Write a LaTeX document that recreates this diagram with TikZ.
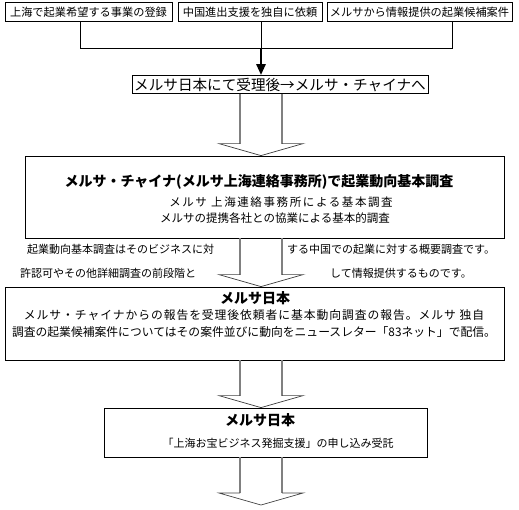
\documentclass[tikz,border=0pt]{standalone}
\usepackage{fontspec}
\setmainfont{Noto Sans CJK JP}
\usetikzlibrary{calc,arrows.meta}

\tikzset{
  box/.style={draw=black, line width=0.8pt, inner sep=0pt},
  topbox/.style={box, minimum height=19pt, font=\fontsize{11.2pt}{13pt}\selectfont},
  titletext/.style={inner sep=0pt, font=\fontsize{14pt}{16pt}\selectfont\bfseries},
  bodytext/.style={inner sep=0pt, font=\fontsize{11.5pt}{13pt}\selectfont},
  shaftline/.style={draw=black!50, line width=1.6pt},
  headline/.style={draw=black!75, line width=0.7pt, line join=miter}
}

% hollow arrow from #1 (upper end) down to the tip #2
\newcommand{\hollowarrow}[2]{%
  \draw[shaftline] ($(axis |- #1)+(-21,0)$) -- ($(axis |- #2)+(-21,-12)$);
  \draw[shaftline] ($(axis |- #1)+(21,0)$) -- ($(axis |- #2)+(21,-12)$);
  \draw[headline] ($(axis |- #2)+(-21,-12)$) -- ++(-21,0) -- (axis |- #2)
    -- ($(axis |- #2)+(42,-12)$) -- ++(-21,0);
}

\begin{document}
\begin{tikzpicture}[x=1pt,y=-1pt]
\useasboundingbox (0,0) rectangle (519,509);
\coordinate (axis) at (261,0);

% requests
\node[topbox, minimum width=167pt] (req1) at (88.5,12) {上海で起業希望する事業の登録};
\node[topbox, minimum width=144pt] (req2) at (250,12) {中国進出支援を独自に依頼};
\node[topbox, minimum width=185pt] (req3) at (419.5,12) {メルサから情報提供の起業候補案件};

\coordinate (jl) at (80,48);
\coordinate (jr) at (452,48);
\draw[line width=0.8pt] (jl |- req1.south) -- (jl) -- (jr) -- (jr |- req3.south);
\draw[line width=0.8pt] (axis |- req2.south) -- (axis |- jl);

\node[box, minimum width=296pt, minimum height=18pt, font=\fontsize{14.6pt}{16pt}\selectfont] (accept) at (280,84.5) {メルサ日本にて受理後→メルサ・チャイナへ};
\draw[line width=2.6pt, -{Triangle[width=9pt,length=11pt]}] (axis |- jl) -- (axis |- accept.north);

% china survey
\node[box, minimum width=479pt, minimum height=82pt] (survey) at (264.5,197) {};
\node[titletext] (surveyT) at (259,182) {メルサ・チャイナ(メルサ上海連絡事務所)で起業動向基本調査};
\node[bodytext] (surveyA) at (281,202) {\addfontfeature{LetterSpace=14}メルサ 上海連絡事務所による基本調査};
\node[bodytext] (surveyB) at (275,218) {メルサの提携各社との協業による基本的調査};
\hollowarrow{accept.south}{survey.north}

% note between
\node[bodytext, anchor=west, font=\fontsize{11pt}{13pt}\selectfont] (noteA) at (27,249) {起業動向基本調査はそのビジネスに対};
\node[bodytext, anchor=west, font=\fontsize{11pt}{13pt}\selectfont] (noteB) at (287,249) {する中国での起業に対する概要調査です。};
\node[bodytext, anchor=west, font=\fontsize{11pt}{13pt}\selectfont] (noteC) at (20,273) {許認可やその他詳細調査の前段階と};
\node[bodytext, anchor=west, font=\fontsize{11pt}{13pt}\selectfont] (noteD) at (330,273) {して情報提供するものです。};

% report
\node[box, minimum width=499pt, minimum height=73pt] (report) at (254.5,323.5) {};
\node[titletext] (reportT) at (255,298) {メルサ日本};
\node[bodytext, font=\fontsize{11.8pt}{13pt}\selectfont] (reportA) at (254,315) {\addfontfeature{LetterSpace=8}メルサ・チャイナからの報告を受理後依頼者に基本動向調査の報告。メルサ 独自};
\node[bodytext, font=\fontsize{11.8pt}{13pt}\selectfont] (reportB) at (254,332) {調査の起業候補案件についてはその案件並びに動向をニュースレター「83ネット」で配信。};
\hollowarrow{survey.south}{report.north}

% order
\node[box, minimum width=323pt, minimum height=49pt] (order) at (265.5,432.5) {};
\node[titletext] (orderT) at (260,420) {メルサ日本};
\node[bodytext, font=\fontsize{11pt}{13pt}\selectfont] (orderA) at (278,443) {「上海お宝ビジネス発掘支援」の申し込み受託};
\hollowarrow{report.south}{order.north}

\coordinate (endtip) at (261,505);
\hollowarrow{order.south}{endtip}
\end{tikzpicture}
\end{document}
